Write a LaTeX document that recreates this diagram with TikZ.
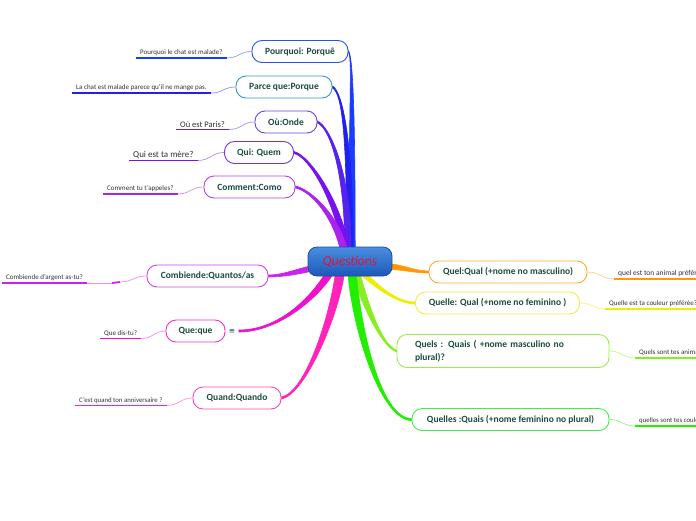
\documentclass[tikz,border=0pt]{standalone}
\usepackage{fontspec}
\setmainfont{Carlito}
\newfontfamily\djv{DejaVu Sans}
\usetikzlibrary{calc}
\pgfdeclarelayer{bg}
\pgfsetlayers{bg,main}
\definecolor{ntext}{HTML}{1B4D3E}
\definecolor{ltext}{HTML}{333333}
\definecolor{qred}{HTML}{E8103A}
\definecolor{qtop}{HTML}{4A8EE0}
\definecolor{qbot}{HTML}{1C58B8}
\definecolor{qborder}{HTML}{1A4FA8}
\definecolor{b1}{HTML}{1A3CFF}\definecolor{k1}{HTML}{2255EE}
\definecolor{b2}{HTML}{2020F0}\definecolor{k2}{HTML}{3399CC}
\definecolor{b3}{HTML}{5522EE}\definecolor{k3}{HTML}{6644EE}
\definecolor{b4}{HTML}{7711EE}\definecolor{k4}{HTML}{7733DD}
\definecolor{b5}{HTML}{AA22EE}\definecolor{k5}{HTML}{AA44EE}
\definecolor{b6}{HTML}{CC22EE}\definecolor{k6}{HTML}{CC44EE}
\definecolor{b7}{HTML}{EE11CC}\definecolor{k7}{HTML}{EE33CC}
\definecolor{b8}{HTML}{FF22BB}\definecolor{k8}{HTML}{FF44BB}
\definecolor{b9}{HTML}{FF9900}\definecolor{k9}{HTML}{FFAA33}
\definecolor{b10}{HTML}{EEEE00}\definecolor{k10}{HTML}{EEEE44}
\definecolor{b11}{HTML}{88EE22}\definecolor{k11}{HTML}{99EE44}
\definecolor{b12}{HTML}{22EE00}\definecolor{k12}{HTML}{44EE44}
\newcommand{\mmbranch}[7]{%
  \filldraw[#1, line width=0.6pt, line join=round]
    ($(#2)+(#6)$) .. controls ($(#2)+(#3)+(#6)$) and ($(#5)+(#4)+(#7)$) .. ($(#5)+(#7)$)
    -- ($(#5)-(#7)$) .. controls ($(#5)+(#4)-(#7)$) and ($(#2)+(#3)-(#6)$) .. ($(#2)-(#6)$) -- cycle;}
\tikzset{
  topic/.style={draw=#1, fill=white, rounded corners=10pt, line width=0.9pt,
    minimum height=22pt, inner sep=0pt, font=\fontsize{9.5}{11}\selectfont\bfseries, text=ntext},
  leaf/.style={anchor=south west, inner xsep=4pt, inner ysep=2pt, text=ltext},
  uline/.style={draw=#1, line width=1.8pt},
  twig/.style={draw=#1!50, line width=0.7pt},
}
\begin{document}
\begin{tikzpicture}[x=1pt,y=-1pt]
\useasboundingbox (0,0) rectangle (696,520);
% central node
\node[draw=qborder, top color=qtop, bottom color=qbot, rounded corners=9pt, line width=0.8pt,
  minimum width=84pt, minimum height=29pt, inner sep=0pt,
  font=\fontsize{13.5}{15}\selectfont\itshape, text=qred] (q) at (350,261.5) {Questions};
% topics
\node[topic=k1, minimum width=96pt] (t1) at (300,51.5) {Pourquoi: Porquê};
\node[topic=k2, minimum width=96pt] (t2) at (284,87) {Parce que:Porque};
\node[topic=k3, minimum width=62pt] (t3) at (286,122) {Où:Onde};
\node[topic=k4, minimum width=69pt] (t4) at (259,152.5) {Qui: Quem};
\node[topic=k5, minimum width=91pt] (t5) at (249.5,187) {Comment:Como};
\node[topic=k6, minimum width=121pt] (t6) at (207.5,276) {Combiende:Quantos/as};
\node[topic=k7, minimum width=59pt] (t7) at (195.5,331) {Que:que};
\node[font=\djv\fontsize{7.5}{8}\selectfont, text=ntext, inner sep=0.5pt] (ic7) at (232,331) {≡};
\node[topic=k8, minimum width=88pt] (t8) at (237,398) {Quand:Quando};
\node[topic=k9, minimum width=158pt] (t9) at (508,272) {Quel:Qual (+nome no masculino)};
\node[topic=k10, minimum width=164pt] (t10) at (497.5,303) {Quelle: Qual (+nome no feminino )};
\node[topic=k11, minimum width=212pt, minimum height=33pt, text width=176pt, align=left,
  font=\fontsize{9.5}{13}\selectfont\bfseries] (t11) at (503,351) {Quels : Quais ( +nome masculino no\\plural)?};
\node[topic=k12, minimum width=197pt] (t12) at (510.5,419.5) {Quelles :Quais (+nome feminino no plural)};
% leaves
\node[leaf, font=\fontsize{7}{8}\selectfont] (l1) at (136,58) {Pourquoi le chat est malade?};
\node[leaf, font=\fontsize{7}{8}\selectfont] (l2) at (72,93) {La chat est malade parece qu'il ne mange pas.};
\node[leaf, font=\fontsize{8.5}{9}\selectfont] (l3) at (176,129.5) {Où est Paris?};
\node[leaf, font=\fontsize{9}{10}\selectfont] (l4) at (129,160.5) {Qui est ta mère?};
\node[leaf, font=\fontsize{7}{8}\selectfont] (l5) at (103,194) {Comment tu t'appeles?};
\node[leaf, font=\fontsize{7}{8}\selectfont] (l6) at (2,283) {Combiende d'argent as-tu?};
\node[leaf, font=\fontsize{7}{8}\selectfont] (l7) at (100,338.5) {Que dis-tu?};
\node[leaf, font=\fontsize{6.8}{7}\selectfont] (l8) at (75,405.5) {C'est quand ton anniversaire ?};
\node[leaf, font=\fontsize{7.5}{8}\selectfont] (r1) at (614,279) {quel est ton animal préféré?};
\node[leaf, font=\fontsize{7}{8}\selectfont] (r2) at (605,309) {Quelle est ta couleur préférée?};
\node[leaf, font=\fontsize{7}{8}\selectfont] (r3) at (635,358) {Quels sont tes animaux préférés?};
\node[leaf, font=\fontsize{6.8}{7}\selectfont] (r4) at (635,426) {quelles sont tes couleurs préférées?};
% anchor coordinates for main branches
\coordinate (e1) at ($(q.north)+(2,4)$);
\coordinate (e2) at ($(q.north)+(0,4)$);
\coordinate (e3) at ($(q.north)+(-2,4)$);
\coordinate (e4) at ($(q.north)+(-4,4)$);
\coordinate (e5) at ($(q.north)+(-6,4)$);
\coordinate (e6) at ($(q.west)+(4,7)$);
\coordinate (e7) at ($(q.south)+(-20,-4)$);
\coordinate (e8) at ($(q.south)+(-10,-4)$);
\coordinate (e9) at ($(q.east)+(-6,5)$);
\coordinate (e10) at ($(q.south)+(12,-4)$);
\coordinate (e11) at ($(q.south)+(6,-4)$);
\coordinate (e12) at ($(q.south)+(2,-4)$);
\coordinate (s7) at ($(ic7.east)+(3,0)$);
\coordinate (k6a) at ($(l6.south east)+(25,0)$);
\coordinate (k6b) at ($(k6a)+(8,-1)$);
\begin{pgfonlayer}{bg}
  \fill[white] (0,0) rectangle (696,520);
  \mmbranch{b1}{t1.east}{4,6}{0,-150}{e1}{0,-1}{3.2,0}
  \mmbranch{b2}{t2.east}{10,5}{0,-110}{e2}{0,-1}{3.2,0}
  \mmbranch{b3}{t3.east}{12,5}{0,-80}{e3}{0,-1}{3.2,0}
  \mmbranch{b4}{t4.east}{15,3}{-8,-50}{e4}{0,-1}{3.5,0}
  \mmbranch{b5}{t5.east}{15,3}{-8,-35}{e5}{0,-1}{3.5,0}
  \mmbranch{b6}{t6.east}{15,0}{-15,3}{e6}{0,1}{0,2.8}
  \mmbranch{b7}{s7}{40,0}{-15,25}{e7}{0,1}{4.2,0}
  \mmbranch{b8}{t8.east}{25,-5}{-5,40}{e8}{0,1}{4.5,0}
  \mmbranch{b9}{t9.west}{-15,0}{15,0}{e9}{0,1}{0,2.8}
  \mmbranch{b10}{t10.west}{-20,0}{10,10}{e10}{0,1}{-3.5,0}
  \mmbranch{b11}{t11.west}{-15,-5}{8,30}{e11}{0,1}{-3.8,0}
  \mmbranch{b12}{t12.west}{-30,0}{5,60}{e12}{0,1}{-4.2,0}
  % leaf connectors
  \draw[twig=b1] (l1.south east) .. controls +(12,0) and +(-12,0) .. (t1.west);
  \draw[twig=b2] (l2.south east) .. controls +(12,0) and +(-12,0) .. (t2.west);
  \draw[twig=b3] (l3.south east) .. controls +(12,0) and +(-12,0) .. (t3.west);
  \draw[twig=b4] (l4.south east) .. controls +(12,0) and +(-12,0) .. (t4.west);
  \draw[twig=b5] (l5.south east) .. controls +(12,0) and +(-12,0) .. (t5.west);
  \draw[twig=b6] (l6.south east) -- (k6a);
  \draw[uline=b6] (k6a) -- (k6b);
  \draw[twig=b6] (k6b) .. controls +(12,0) and +(-12,0) .. (t6.west);
  \draw[twig=b7] (l7.south east) .. controls +(12,0) and +(-12,0) .. (t7.west);
  \draw[twig=b8] (l8.south east) .. controls +(12,0) and +(-12,0) .. (t8.west);
  \draw[twig=b9] (t9.east) .. controls +(12,0) and +(-12,0) .. (r1.south west);
  \draw[twig=b10] (t10.east) .. controls +(12,0) and +(-12,0) .. (r2.south west);
  \draw[twig=b11] (t11.east) .. controls +(12,0) and +(-12,0) .. (r3.south west);
  \draw[twig=b12] (t12.east) .. controls +(12,0) and +(-12,0) .. (r4.south west);
\end{pgfonlayer}
% underlines
\foreach \n/\c in {l1/b1,l2/b2,l3/b3,l4/b4,l5/b5,l6/b6,l7/b7,l8/b8,r1/b9,r2/b10,r3/b11,r4/b12}
  \draw[uline=\c] (\n.south west) -- (\n.south east);
\end{tikzpicture}
\end{document}
